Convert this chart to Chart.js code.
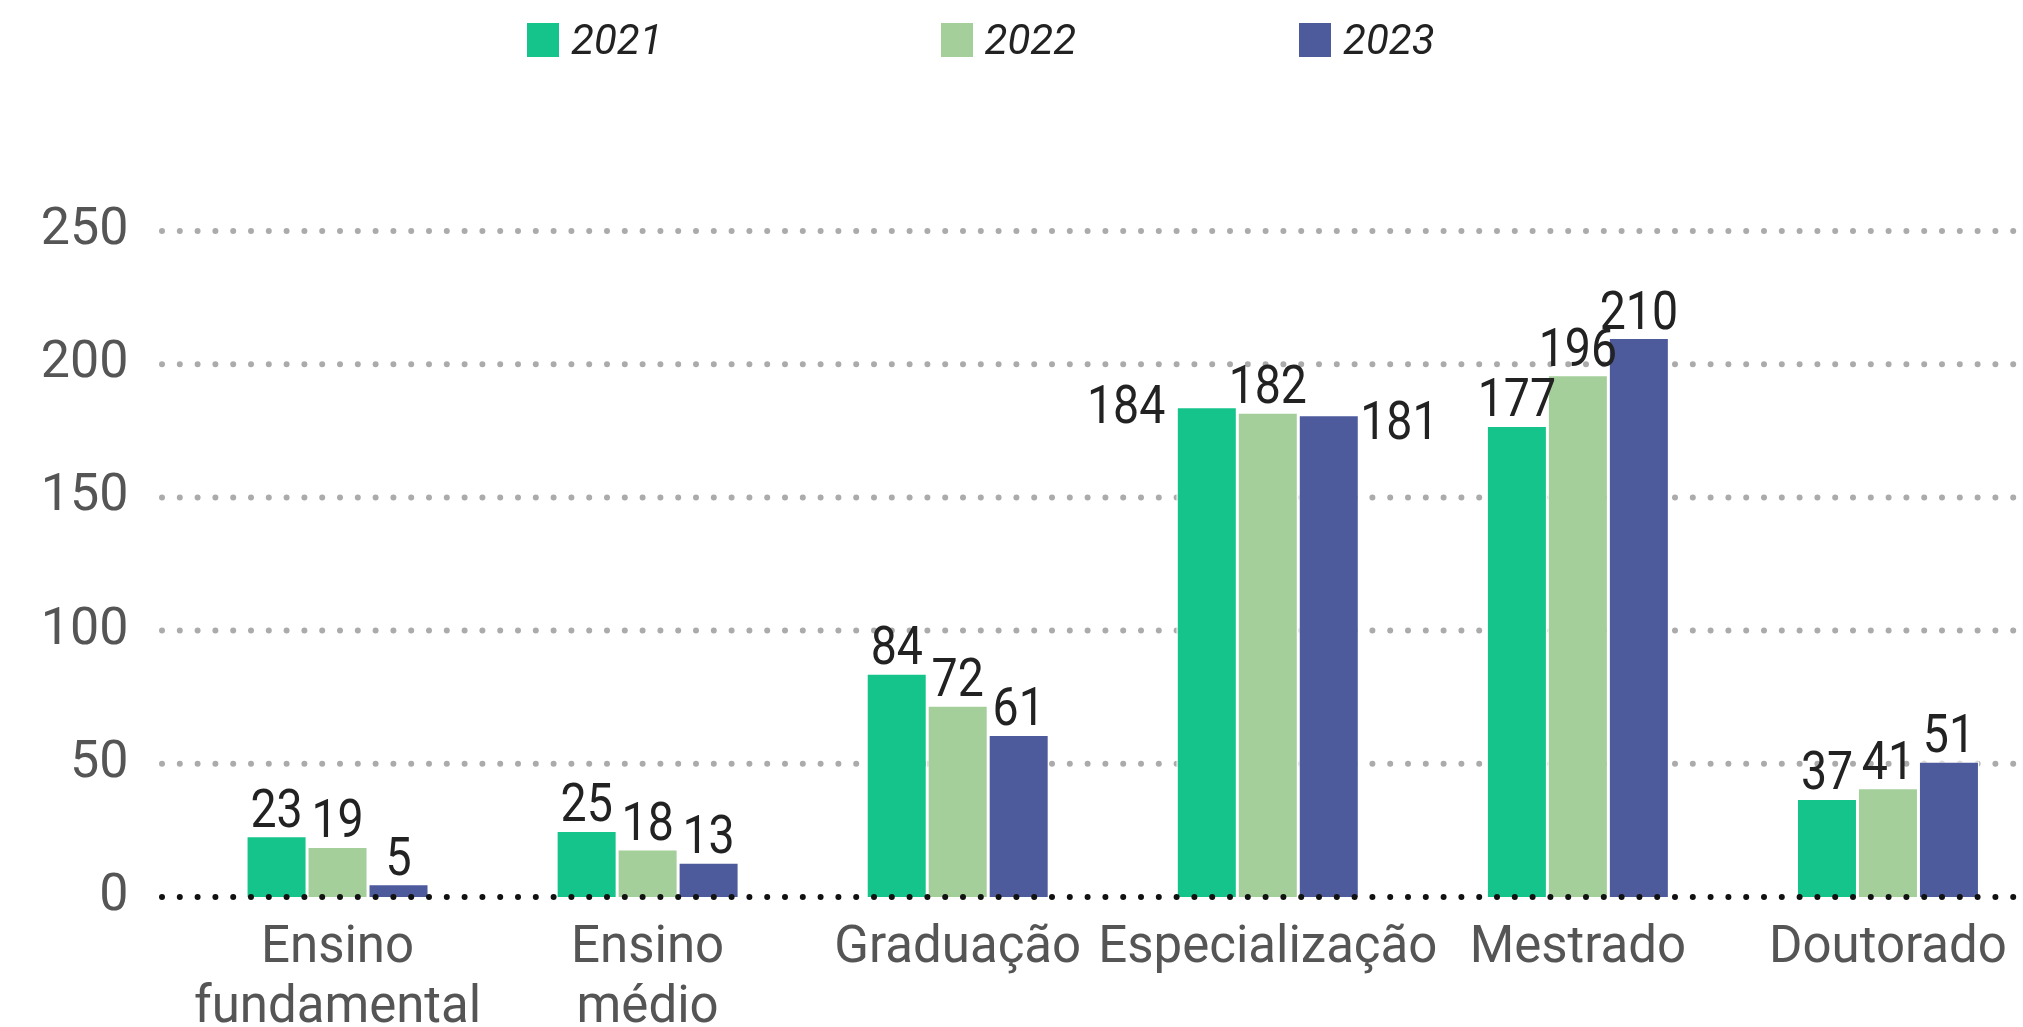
<!DOCTYPE html>
<html>
<head>
<meta charset="utf-8">
<script src="https://cdn.jsdelivr.net/npm/chart.js@4.4.1/dist/chart.umd.min.js"></script>
<style>
  html, body { margin: 0; padding: 0; background: #fff; overflow: hidden; }
  #wrap { position: relative; width: 2043px; height: 1027px; }
  #legend {
    position: absolute; top: 22px; left: 527px;
    display: flex;
    font-family: Roboto, sans-serif; font-style: italic; font-size: 42px; color: #222;
  }
  #legend .item { display: flex; align-items: center; height: 35px; }
  #legend .item + .item { margin-left: 278px; }
  #legend .item:last-child { margin-left: 223px; }
  #legend .box { width: 32px; height: 34px; margin-right: 12px; }
</style>
</head>
<body>
<div id="wrap">
  <canvas id="chart1"></canvas>
  <div id="legend"></div>
</div>
<script>
// Chart data
const categories = [['Ensino', 'fundamental'], ['Ensino', 'médio'], 'Graduação', 'Especialização', 'Mestrado', 'Doutorado'];
const years = ['2021', '2022', '2023'];
const values2021 = [23, 25, 84, 184, 177, 37];
const values2022 = [19, 18, 72, 182, 196, 41];
const values2023 = [5, 13, 61, 181, 210, 51];
const yTicks = [0, 50, 100, 150, 200, 250];
const colors = ['#14c48a', '#a4cf9a', '#4d5a9c'];

// labels that sit beside the bar instead of on top ("dataset-index")
const sideLabels = { '0-3': 'left', '2-3': 'right' };

function dots(ctx, y, x0, x1, color) {
    ctx.save();
    ctx.strokeStyle = color;
    ctx.lineWidth = 6;
    ctx.lineCap = 'round';
    ctx.setLineDash([0, 17.8]);
    ctx.beginPath();
    ctx.moveTo(x0, y);
    ctx.lineTo(x1, y);
    ctx.stroke();
    ctx.restore();
}

const dottedGrid = {
    id: 'dottedGrid',
    beforeDatasetsDraw(chart) {
        const y = chart.scales.y;
        yTicks.forEach(v => {
            if (v !== 0) dots(chart.ctx, y.getPixelForValue(v), 162, chart.width, '#ababab');
        });
    },
    afterDatasetsDraw(chart) {
        dots(chart.ctx, chart.scales.y.getPixelForValue(0), 162, chart.width, '#111');
    }
};

// value labels, slightly narrowed
function narrowText(ctx, text, x, y) {
    ctx.save();
    ctx.translate(x, y);
    ctx.scale(0.86, 1);
    ctx.fillText(text, 0, 0);
    ctx.restore();
}

const barLabels = {
    id: 'barLabels',
    afterDatasetsDraw(chart) {
        const ctx = chart.ctx;
        ctx.save();
        ctx.font = '54px Roboto';
        ctx.fillStyle = '#222';
        chart.data.datasets.forEach((ds, di) => {
            chart.getDatasetMeta(di).data.forEach((bar, i) => {
                const text = String(ds.data[i]);
                const side = sideLabels[di + '-' + i];
                if (side === 'left') {
                    ctx.textAlign = 'right';
                    ctx.textBaseline = 'middle';
                    narrowText(ctx, text, bar.x - bar.width / 2 - 11, bar.y + 3);
                } else if (side === 'right') {
                    ctx.textAlign = 'left';
                    ctx.textBaseline = 'middle';
                    narrowText(ctx, text, bar.x + bar.width / 2 + 1, bar.y + 11);
                } else {
                    ctx.textAlign = 'center';
                    ctx.textBaseline = 'alphabetic';
                    narrowText(ctx, text, bar.x, bar.y - 9);
                }
            });
        });
        ctx.restore();
    }
};

const ctx = document.getElementById('chart1').getContext('2d');
const chart1 = new Chart(ctx, {
    type: 'bar',
    data: {
        labels: categories,
        datasets: [
            { label: years[0], data: values2021, backgroundColor: colors[0] },
            { label: years[1], data: values2022, backgroundColor: colors[1] },
            { label: years[2], data: values2023, backgroundColor: colors[2] }
        ].map(d => Object.assign(d, {
            borderColor: '#fff',
            borderWidth: 1.5,
            categoryPercentage: 0.59,
            barPercentage: 1
        })),
    },
    options: {
        responsive: true,
        maintainAspectRatio: false,
        animation: false,
        layout: { padding: { top: 231, left: 0, right: 0, bottom: 0 } },
        plugins: {
            legend: { display: false },
            tooltip: { enabled: false },
        },
        scales: {
            x: {
                grid: { display: false, drawTicks: false },
                border: { display: false },
                ticks: {
                    color: '#555',
                    font: { family: 'Roboto', size: 51, lineHeight: 1.18 },
                    padding: 22,
                    maxRotation: 0,
                    autoSkip: false,
                },
                afterFit: s => { s.height = 130; },
            },
            y: {
                min: 0,
                max: 250,
                grid: { display: false, drawTicks: false },
                border: { display: false },
                ticks: {
                    stepSize: 50,
                    color: '#555',
                    font: { family: 'Roboto', size: 52 },
                    padding: 54,
                },
                afterFit: s => { s.width = 182.5; },
            },
        },
    },
    plugins: [dottedGrid, barLabels],
});

// legend row built from the datasets
const legend = document.getElementById('legend');
chart1.data.datasets.forEach(ds => {
    const item = document.createElement('div');
    item.className = 'item';
    const box = document.createElement('span');
    box.className = 'box';
    box.style.background = ds.backgroundColor;
    const txt = document.createElement('span');
    txt.textContent = ds.label;
    item.append(box, txt);
    legend.append(item);
});
</script>
</body>
</html>
